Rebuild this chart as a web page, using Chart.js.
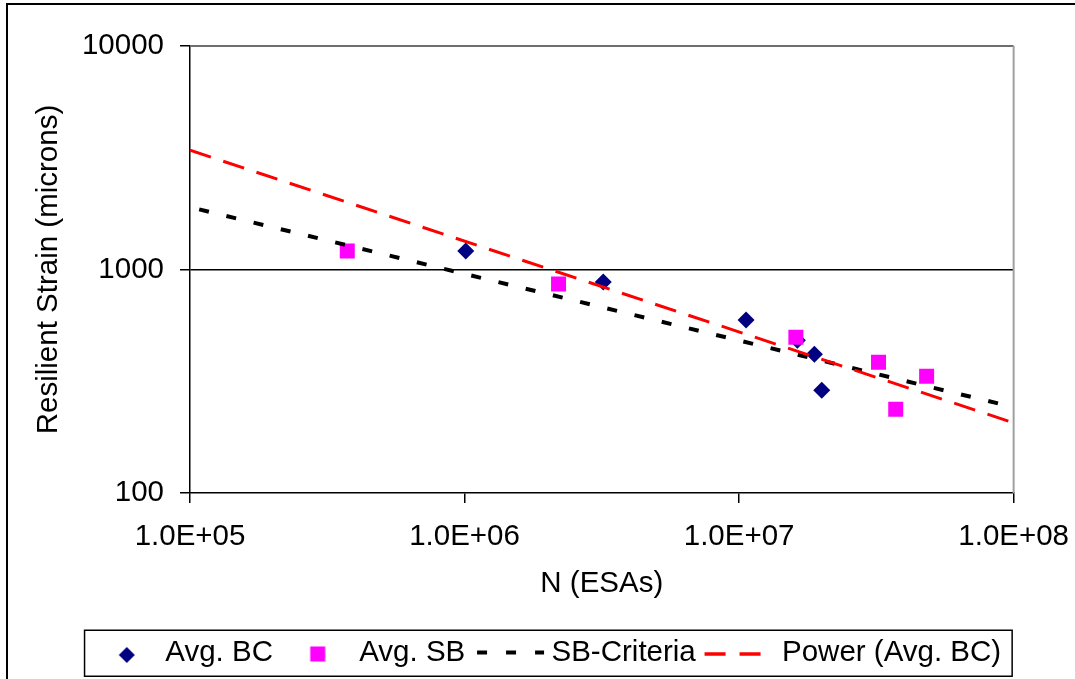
<!DOCTYPE html>
<html>
<head>
<meta charset="utf-8">
<title>Resilient Strain vs N</title>
<script src="https://cdn.jsdelivr.net/npm/chart.js@4.4.1/dist/chart.umd.min.js"></script>
<style>
    html, body { margin: 0; padding: 0; background: #fff; overflow: hidden; }
    .frame {
        position: absolute; left: 6px; top: 3px; width: 1200px; height: 800px;
        border-top: 2px solid #000; border-left: 2px solid #000;
    }
    /* a little wider than the window: the x labels need room right of the plot */
    .chart-box { position: absolute; left: 0; top: 0; width: 1085px; height: 679px; }
</style>
</head>
<body>
<div class="frame"></div>
<div class="chart-box"><canvas id="strainChart"></canvas></div>
<script>
// Data
const bcN = [1.01e6, 3.2e6, 1.06e7, 1.63e7, 1.88e7, 2.0e7];
const bcStrain = [1210, 880, 594, 483, 418, 288];

const sbN = [3.74e5, 2.2e6, 1.61e7, 3.22e7, 3.72e7, 4.82e7];
const sbStrain = [1210, 861, 498, 385, 237, 333];

const criteriaN = [1.08e5, 1.0e8];
const criteriaStrain = [1858, 242];

const powerN = [1.0e5, 1.0e8];
const powerStrain = [3417, 206];

const seriesNames = ["Avg. BC", "Avg. SB", "SB-Criteria", "Power (Avg. BC)"];

const xTicks = [1e5, 1e6, 1e7, 1e8];
const xTickLabels = ["1.0E+05", "1.0E+06", "1.0E+07", "1.0E+08"];
const yTicks = [100, 1000, 10000];
const yTickLabels = ["100", "1000", "10000"];

const toPoints = (xs, ys) => xs.map((x, i) => ({ x: x, y: ys[i] }));

const FONT = "'Liberation Sans', Arial, sans-serif";
const FONT_SIZE = 29.5;

// Small canvases used as legend samples
function legendSample(draw) {
    const c = document.createElement("canvas");
    c.width = 80;
    c.height = 30;
    const g = c.getContext("2d");
    draw(g);
    return c;
}
const diamondSample = legendSample(g => {
    g.fillStyle = "#000080";
    g.beginPath();
    g.moveTo(45 - 8, 17);
    g.lineTo(45, 17 - 8);
    g.lineTo(45 + 8, 17);
    g.lineTo(45, 17 + 8);
    g.closePath();
    g.fill();
});
const squareSample = legendSample(g => {
    g.fillStyle = "#FF00FF";
    g.fillRect(42 - 7.5, 16 - 7.5, 15, 15);
});
const blackLineSample = legendSample(g => {
    g.strokeStyle = "#000";
    g.lineWidth = 4;
    g.setLineDash([10, 19]);
    g.beginPath();
    g.moveTo(40 - 31, 14.5);
    g.lineTo(40 + 36, 14.5);
    g.stroke();
});
const redLineSample = legendSample(g => {
    g.strokeStyle = "#FF0000";
    g.lineWidth = 3.5;
    g.setLineDash([21, 14]);
    g.beginPath();
    g.moveTo(40 - 34, 16);
    g.lineTo(40 + 22, 16);
    g.stroke();
});
const samples = [diamondSample, squareSample, blackLineSample, redLineSample];

// Plot area outline (grey top/right) and legend frame
const framePlugin = {
    id: "framePlugin",
    beforeDatasetsDraw(chart) {
        const { ctx, chartArea } = chart;
        ctx.save();
        ctx.lineWidth = 2;
        ctx.strokeStyle = "#6e6e6e";
        ctx.beginPath();
        ctx.moveTo(chartArea.left, chartArea.top);
        ctx.lineTo(chartArea.right, chartArea.top);
        ctx.stroke();
        ctx.strokeStyle = "#a0a0a0";
        ctx.beginPath();
        ctx.moveTo(chartArea.right, chartArea.top);
        ctx.lineTo(chartArea.right, chartArea.bottom);
        ctx.stroke();
        ctx.restore();
    },
    afterDraw(chart) {
        const legend = chart.legend;
        const boxes = legend.legendHitBoxes;
        if (!boxes || !boxes.length) return;
        const last = boxes[boxes.length - 1];
        const left = boxes[0].left - 8.5;
        const right = last.left + last.width + 11;
        const top = legend.top + 6;
        const bottom = legend.top + 52;
        const ctx = chart.ctx;
        ctx.save();
        ctx.lineWidth = 1.5;
        ctx.strokeStyle = "#000";
        ctx.strokeRect(left, top, right - left, bottom - top);
        ctx.restore();
    }
};

const strainChart = new Chart(document.getElementById("strainChart"), {
    type: "scatter",
    data: {
        datasets: [
            {
                label: seriesNames[0],
                data: toPoints(bcN, bcStrain),
                pointStyle: "rectRot",
                pointRadius: 8.5,
                pointHoverRadius: 8.5,
                borderWidth: 0,
                backgroundColor: "#000080",
                borderColor: "#000080",
                order: 3
            },
            {
                label: seriesNames[1],
                data: toPoints(sbN, sbStrain),
                pointStyle: "rect",
                pointRadius: 10.6,
                pointHoverRadius: 10.6,
                borderWidth: 0,
                backgroundColor: "#FF00FF",
                borderColor: "#FF00FF",
                order: 2
            },
            {
                label: seriesNames[2],
                data: toPoints(criteriaN, criteriaStrain),
                showLine: true,
                pointRadius: 0,
                borderColor: "#000000",
                borderWidth: 4,
                borderDash: [10, 18],
                order: 1
            },
            {
                label: seriesNames[3],
                data: toPoints(powerN, powerStrain),
                showLine: true,
                pointRadius: 0,
                borderColor: "#FF0000",
                borderWidth: 3,
                borderDash: [22, 13],
                order: 0
            }
        ]
    },
    options: {
        responsive: true,
        maintainAspectRatio: false,
        animation: false,
        layout: { padding: { top: 46, left: 9.2, right: 0, bottom: 1.25 } },
        plugins: {
            tooltip: { enabled: false },
            legend: {
                position: "bottom",
                labels: {
                    usePointStyle: true,
                    pointStyleWidth: 57.5,
                    padding: 14,
                    color: "#000",
                    font: { family: FONT, size: FONT_SIZE },
                    generateLabels: (chart) => seriesNames.map((name, i) => ({
                        text: name,
                        pointStyle: samples[i],
                        fillStyle: "transparent",
                        strokeStyle: "transparent",
                        lineWidth: 0,
                        hidden: false,
                        datasetIndex: i
                    }))
                }
            }
        },
        scales: {
            x: {
                type: "logarithmic",
                position: "bottom",
                min: 1e5,
                max: 1e8,
                afterBuildTicks: (axis) => { axis.ticks = xTicks.map(v => ({ value: v })); },
                afterFit: (axis) => { axis.height = 131.25; },
                ticks: {
                    padding: 16,
                    color: "#000",
                    font: { family: FONT, size: FONT_SIZE },
                    maxRotation: 0,
                    autoSkip: false,
                    callback: (value, index) => xTickLabels[index]
                },
                grid: {
                    drawOnChartArea: false,
                    tickLength: 10,
                    tickColor: "#000",
                    lineWidth: 1.5
                },
                border: { color: "#000", width: 1.5 },
                title: {
                    display: true,
                    text: "N (ESAs)",
                    color: "#000",
                    font: { family: FONT, size: FONT_SIZE },
                    padding: { top: 0, bottom: 22.5 }
                }
            },
            y: {
                type: "logarithmic",
                position: "left",
                min: 100,
                max: 10000,
                afterBuildTicks: (axis) => { axis.ticks = yTicks.map(v => ({ value: v })); },
                afterFit: (axis) => { axis.width = 180.8; },
                ticks: {
                    padding: 16,
                    color: "#000",
                    font: { family: FONT, size: FONT_SIZE },
                    autoSkip: false,
                    callback: (value, index) => yTickLabels[index]
                },
                grid: {
                    color: (ctx) => (ctx.tick && ctx.tick.value === 1000 ? "#000" : "rgba(0,0,0,0)"),
                    tickColor: "#000",
                    tickLength: 10,
                    lineWidth: 1.5
                },
                border: { color: "#000", width: 1.5 },
                title: {
                    display: true,
                    text: "Resilient Strain (microns)",
                    color: "#000",
                    font: { family: FONT, size: FONT_SIZE },
                    padding: { top: 21.6, bottom: 0 }
                }
            }
        }
    },
    plugins: [framePlugin]
});
</script>
</body>
</html>
